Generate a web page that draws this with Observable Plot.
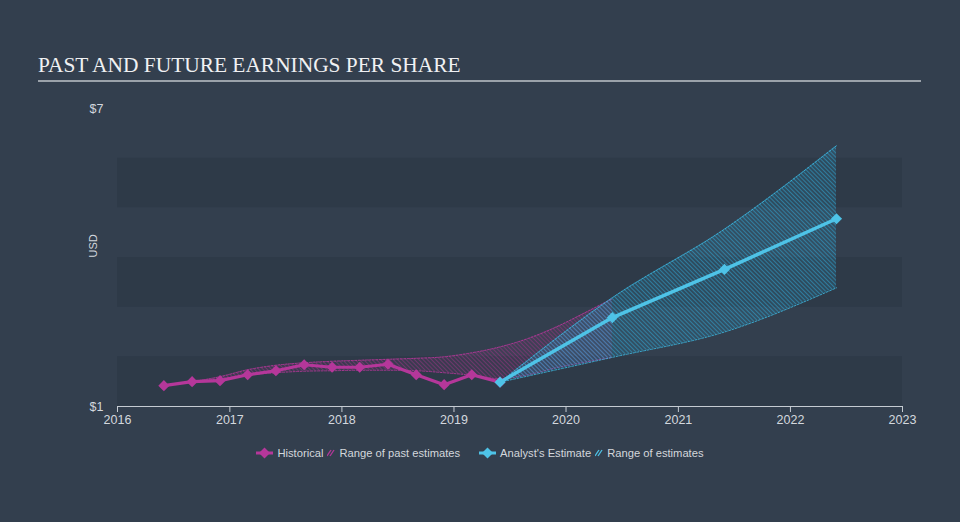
<!DOCTYPE html>
<html><head><meta charset="utf-8">
<script src="https://cdn.jsdelivr.net/npm/d3@7"></script>
<script src="https://cdn.jsdelivr.net/npm/@observablehq/plot@0.6"></script>
<style>
html,body{margin:0;padding:0;background:#333f4e;width:960px;height:522px;overflow:hidden;}
#title{position:absolute;left:38px;top:53px;font-family:"Liberation Serif","DejaVu Serif",serif;font-size:21.4px;color:#f0f1f3;letter-spacing:0px;white-space:nowrap;}
#rule{position:absolute;left:38px;top:80px;width:883px;height:2px;background:#9ba2aa;}
#chart{position:absolute;left:0;top:90px;}
#legend{position:absolute;left:0;top:447px;width:960px;display:flex;justify-content:center;align-items:center;font-family:"Liberation Sans",Arial,sans-serif;font-size:11.2px;color:#d3d7dc;white-space:nowrap;}
#legend .item{display:flex;align-items:center;}
#legend svg{display:block;}
</style>
</head><body>
<svg width="0" height="0" style="position:absolute">
<defs>
<pattern id="hatchPink" patternUnits="userSpaceOnUse" width="3" height="3" patternTransform="rotate(-45)">
<rect width="3" height="3" fill="#b5379a" fill-opacity="0.10"></rect>
<line x1="0" y1="0" x2="0" y2="3" stroke="#a8348f" stroke-width="1.3" stroke-opacity="0.7"></line>
</pattern>
<pattern id="hatchBlue" patternUnits="userSpaceOnUse" width="3" height="3" patternTransform="rotate(-45)">
<rect width="3" height="3" fill="#2b9cc6" fill-opacity="0.18"></rect>
<line x1="0" y1="0" x2="0" y2="3" stroke="#2fa4cf" stroke-width="1.4" stroke-opacity="0.8"></line>
</pattern>
</defs>
</svg>
<div id="title">PAST AND FUTURE EARNINGS PER SHARE</div>
<div id="rule"></div>
<div id="chart"></div>
<div id="legend"></div>
<script>
// ---- data ----
const histDates = ["2016-05-31","2016-08-31","2016-11-30","2017-02-28","2017-05-31","2017-08-31","2017-11-30","2018-02-28","2018-05-31","2018-08-31","2018-11-30","2019-02-28","2019-05-31"];
const histEPS = [1.42,1.50,1.52,1.64,1.72,1.84,1.79,1.79,1.85,1.64,1.44,1.64,1.49];

const pastDates = ["2016-08-31","2016-11-30","2017-02-28","2017-05-31","2017-08-31","2017-11-30","2018-02-28","2018-05-31","2018-08-31","2018-11-30","2019-02-28","2019-05-31","2019-08-31","2019-11-30","2020-02-29","2020-05-31"];
const pastLow  = [1.50,1.56,1.63,1.68,1.71,1.72,1.73,1.73,1.72,1.68,1.63,1.56,1.64,1.78,1.89,1.99];
const pastHigh = [1.50,1.60,1.74,1.83,1.88,1.91,1.93,1.95,1.97,2.00,2.08,2.20,2.37,2.60,2.88,3.17];

const estDates = ["2019-05-31","2020-05-31","2021-05-31","2022-05-31"];
const estEPS  = [1.49,2.79,3.76,4.78];
const estLow  = [1.49,1.99,2.50,3.39];
const estHigh = [1.49,3.19,4.57,6.25];

const bandLow  = [1,3,5];
const bandHigh = [2,4,6];

const xTickLabels = ["2016","2017","2018","2019","2020","2021","2022","2023"];
const yTickValues = [1,7];

// ---- build ----
const parse = d3.utcParse("%Y-%m-%d");
const hist = histDates.map((d,i)=>({date:parse(d), eps:histEPS[i]}));
const past = pastDates.map((d,i)=>({date:parse(d), low:pastLow[i], high:pastHigh[i]}));
const est = estDates.map((d,i)=>({date:parse(d), eps:estEPS[i], low:estLow[i], high:estHigh[i]}));
const bands = bandLow.map((v,i)=>({y1:v, y2:bandHigh[i]}));
const xTicks = xTickLabels.map(y=>d3.utcParse("%Y")(y));

const pink = "#b5379a";
const blue = "#4ec3e7";
const axisColor = "#d3d8de";

const chart = Plot.plot({
  width: 960, height: 350,
  marginTop: 18, marginBottom: 34, marginLeft: 117, marginRight: 58,
  style: {background: "transparent", color: axisColor, fontFamily: "Liberation Sans, Arial, sans-serif", fontSize: "12px"},
  x: {type: "utc", domain: [xTicks[0], xTicks[xTicks.length-1]], ticks: xTicks, tickFormat: d3.utcFormat("%Y"), tickSize: 6, tickPadding: 3, label: null},
  y: {domain: [1,7], ticks: yTickValues, tickFormat: d => "$" + d, tickSize: 0, tickPadding: 14, label: null},
  marks: [
    Plot.rectY(bands, {y1: "y1", y2: "y2", fill: "#2e3a48"}),
    Plot.areaY(past, {x: "date", y1: "low", y2: "high", fill: "url(#hatchPink)", curve: "monotone-x"}),
    Plot.lineY(past, {x: "date", y: "high", stroke: pink, strokeWidth: 1, strokeDasharray: "2,1.5", strokeOpacity: 0.85, curve: "monotone-x"}),
    Plot.lineY(past, {x: "date", y: "low", stroke: pink, strokeWidth: 1, strokeDasharray: "2,1.5", strokeOpacity: 0.85, curve: "monotone-x"}),
    Plot.areaY(est, {x: "date", y1: "low", y2: "high", fill: "url(#hatchBlue)", curve: "monotone-x"}),
    Plot.lineY(est, {x: "date", y: "high", stroke: "#3cb4dc", strokeWidth: 1, strokeDasharray: "2,1.5", strokeOpacity: 0.9, curve: "monotone-x"}),
    Plot.lineY(est, {x: "date", y: "low", stroke: "#3cb4dc", strokeWidth: 1, strokeDasharray: "2,1.5", strokeOpacity: 0.9, curve: "monotone-x"}),
    Plot.lineY(hist, {x: "date", y: "eps", stroke: pink, strokeWidth: 3.2}),
    Plot.dot(hist, {x: "date", y: "eps", symbol: "diamond2", r: 5, fill: pink}),
    Plot.lineY(est, {x: "date", y: "eps", stroke: blue, strokeWidth: 3.5}),
    Plot.dot(est, {x: "date", y: "eps", symbol: "diamond2", r: 5, fill: blue}),
    Plot.ruleY([1], {stroke: "#c5cbd2", strokeWidth: 1.2}),
    Plot.axisX({ticks: xTicks, tickFormat: d3.utcFormat("%Y"), tickSize: 6, tickPadding: 3, stroke: "#c5cbd2", fill: axisColor, fontSize: 12.5}),
    Plot.axisY({ticks: yTickValues, tickFormat: d => "$" + d, tickSize: 0, tickPadding: 14, fill: axisColor, fontSize: 12.5, label: null}),
    Plot.text(["USD"], {frameAnchor: "left", dx: -24, rotate: -90, fill: axisColor, fontSize: 11})
  ]
});
document.getElementById("chart").appendChild(chart);

// ---- legend ----
const legendItems = [
  {type: "marker", color: pink, label: "Historical"},
  {type: "hatch", color: pink, label: "Range of past estimates"},
  {type: "marker", color: blue, label: "Analyst's Estimate"},
  {type: "hatch", color: blue, label: "Range of estimates"}
];
const legend = d3.select("#legend");
legendItems.forEach((it, i) => {
  const item = legend.append("div").attr("class", "item").style("margin-left", i === 2 ? "19px" : (i === 0 ? "0" : "4px"));
  const s = item.append("svg");
  if (it.type === "marker") {
    s.attr("width", 17).attr("height", 12);
    s.append("line").attr("x1", 0).attr("x2", 17).attr("y1", 6).attr("y2", 6).attr("stroke", it.color).attr("stroke-width", 3);
    s.append("path").attr("d", "M8.5,0.5L14,6L8.5,11.5L3,6Z").attr("fill", it.color);
  } else {
    s.attr("width", 8).attr("height", 10);
    [0, 3].forEach(o => s.append("line").attr("x1", o).attr("y1", 8).attr("x2", o + 4).attr("y2", 2).attr("stroke", it.color).attr("stroke-width", 1.3));
  }
  item.append("span").style("margin-left", "4px").text(it.label);
});
</script>
</body></html>
